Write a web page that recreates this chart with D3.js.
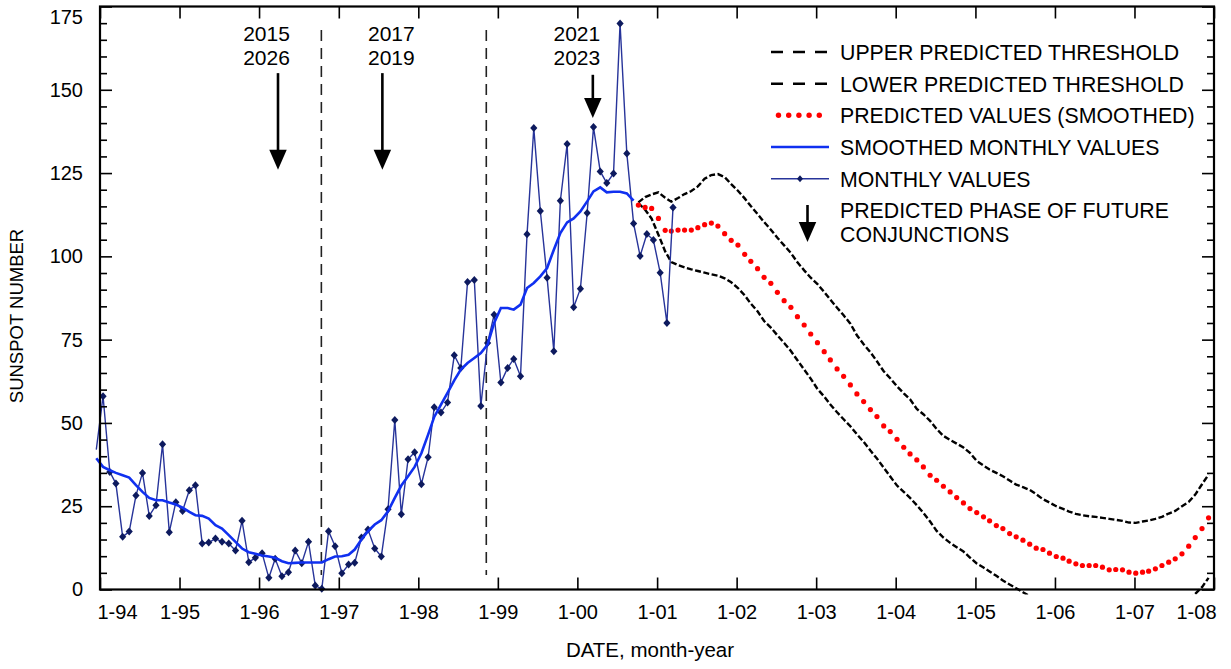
<!DOCTYPE html>
<html><head><meta charset="utf-8">
<script src="https://cdn.jsdelivr.net/npm/d3@7"></script>
<style>
body{margin:0;background:#fff}
svg{display:block}
text{font-family:Arial,"Liberation Sans",Helvetica,sans-serif;fill:#000}
</style>
</head><body>
<svg id="chart" width="1231" height="669"></svg>
<script>
// ---------------- DATA ----------------
const monthlyStart = "1993-12";
const monthlyValues = [
  42,
  58, 35.3, 31.8, 15.8, 17.4, 28.2, 35.0, 22.1, 25.3, 43.6, 17.2, 26.2,
  23.6, 29.8, 31.3, 13.8, 14.1, 15.3, 14.3, 13.8, 11.7, 20.6, 8.2, 9.5,
  10.9, 3.5, 9.2, 4.0, 5.2, 11.7, 7.9, 14.3, 1.2, 0.2, 17.5, 13.0,
  4.9, 7.5, 8.0, 15.6, 18.0, 12.3, 9.9, 24.1, 50.9, 22.6, 39.1, 41.2,
  31.6, 39.7, 54.7, 53.1, 56.1, 70.3, 66.5, 92.3, 92.9, 55.1, 74.0, 82.5,
  62.1, 66.5, 69.2, 64.0, 106.6, 138.5, 113.6, 93.6, 71.5, 116.7, 133.7, 84.7,
  90.3, 113.0, 138.8, 125.5, 122.0, 124.9, 169.9, 130.9, 109.9, 100.1, 106.7, 104.9,
  95.1, 80.0, 114.7
];
const smoothedStart = "1993-12";
const smoothedValues = [
  39.4,
  36.8, 35.8, 35.0, 34.3, 33.6, 31.3, 29.3, 27.5, 26.8, 26.8, 26.1, 25.5,
  24.6, 23.3, 22.3, 22.1, 21.3, 19.3, 18.3, 16.3, 14.3, 12.3, 11.2, 10.7,
  10.2, 9.9, 9.5, 8.5, 7.9, 8.0, 8.1, 8.1, 8.1, 8.1, 9.1, 9.9,
  10.0, 10.4, 12.0, 15.0, 17.5, 19.5, 20.8, 23.5, 27.5, 31.2, 34.0, 36.8,
  40.9, 46.5, 51.8, 55.5, 59.0, 62.8, 66.0, 68.0, 69.5, 71.0, 73.5, 80.0,
  84.5, 84.5, 84.0, 85.5, 90.5, 92.0, 94.0, 96.5, 102.0, 107.0, 110.2, 111.4,
  113.5, 116.5, 119.5, 120.7, 119.2, 119.4, 119.4, 118.9, 116.7
];
const predictedStart = "2000-10";
const predictedValues = [
  115.4, 114.7, 114.4, 111.4, 107.8, 107.6, 107.9, 107.9, 107.9, 108.6,
  109.5, 110.0, 109.1, 106.8, 104.8, 103.4, 100.6, 98.5, 96.3, 93.7,
  91.9, 89.2, 86.7, 84.7, 81.9, 79.4, 76.7, 74.1, 71.4, 68.9,
  66.2, 64.0, 61.4, 58.7, 56.4, 54.0, 51.9, 49.1, 47.4, 45.1,
  42.7, 40.7, 38.9, 36.8, 34.3, 32.8, 31.0, 29.3, 27.6, 26.0,
  24.3, 23.1, 21.8, 20.6, 19.2, 18.3, 16.8, 15.8, 14.8, 13.6,
  12.4, 12.0, 10.9, 9.9, 9.4, 8.5, 7.7, 7.2, 7.2, 7.2,
  6.7, 5.9, 6.0, 5.9, 5.2, 4.9, 5.2, 5.5, 6.2, 7.2,
  8.2, 9.2, 10.7, 13.0, 15.6, 18.3, 21.5
];
const upperThreshold = [
  116.2, 117.8, 118.6, 119.2, 117.6, 116.4, 117.5, 118.7, 119.6, 121.0,
  123.3, 124.4, 124.7, 123.8, 121.7, 119.7, 117.4, 115.1, 112.7, 110.3,
  108.0, 105.6, 103.3, 101.0, 98.2, 95.8, 93.6, 91.7, 89.3, 87.0,
  84.6, 82.3, 79.8, 76.3, 73.6, 71.2, 68.5, 65.5, 63.4, 61.0,
  58.9, 57.1, 54.2, 52.6, 50.6, 48.2, 46.1, 44.9, 43.8, 42.6,
  41.0, 38.6, 37.2, 36.0, 35.0, 34.0, 32.7, 31.5, 30.7, 29.9,
  28.6, 27.1, 26.1, 25.0, 24.2, 23.4, 22.7, 22.3, 22.0, 21.8,
  21.5, 21.2, 20.9, 20.6, 20.1, 20.0, 20.4, 20.7, 21.2, 21.8,
  22.8, 23.6, 25.0, 26.3, 28.5, 31.6, 34.5
];
// values below the frame are not visible in the picture (null)
const lowerThreshold = [
  116.0, 114.0, 111.3, 106.5, 101.5, 98.3, 97.4, 96.7, 96.1, 95.6,
  95.1, 94.6, 94.2, 93.4, 92.2, 90.5, 88.3, 85.8, 83.5, 80.6,
  78.6, 76.3, 74.0, 71.6, 68.8, 66.0, 63.3, 60.2, 57.9, 55.5,
  53.2, 51.1, 49.0, 46.6, 44.3, 41.7, 39.3, 36.6, 33.9, 31.2,
  29.3, 27.5, 25.3, 23.0, 20.4, 17.6, 15.6, 14.0, 12.7, 11.4,
  9.6, 7.8, 6.6, 5.4, 4.1, 2.7, 1.5, 0.4, -0.8, -2.0,
  null, null, null, null, null, null, null, null, null, null,
  null, null, null, null, null, null, null, null, null, null,
  null, null, null, -3.0, -1.3, 0.7, 3.5
];
const conjunctionLines = ["1996-10-13", "1998-11-09"];
const conjunctionArrows = [
  {date: "1996-03-28", tip: 126, top: 155, labels: ["2015", "2026"]},
  {date: "1997-07-20", tip: 126, top: 155, labels: ["2017", "2019"]},
  {date: "2000-03-12", tip: 141.5, top: 154.5, labels: ["2021", "2023"]}
];
const yTicks = [0, 25, 50, 75, 100, 125, 150, 175];
const xTickYears = d3.range(1994, 2009);
const legendLabels = [
  ["UPPER PREDICTED THRESHOLD"],
  ["LOWER PREDICTED THRESHOLD"],
  ["PREDICTED VALUES (SMOOTHED)"],
  ["SMOOTHED MONTHLY VALUES"],
  ["MONTHLY VALUES"],
  ["PREDICTED PHASE OF FUTURE", "CONJUNCTIONS"]
];
const yTitle = "SUNSPOT NUMBER";
const xTitle = "DATE, month-year";

// ---------------- HELPERS ----------------
const parseMonth = d3.timeParse("%Y-%m");
const parseDay = d3.timeParse("%Y-%m-%d");
function monthSeries(start, values, day) {
  const s = parseMonth(start);
  return values.map((v, i) => {
    const d = d3.timeMonth.offset(s, i);
    d.setDate(day);
    return {date: d, value: v};
  });
}
const monthly = monthSeries(monthlyStart, monthlyValues, 15);
const smoothed = monthSeries(smoothedStart, smoothedValues, 15);
const predicted = monthSeries(predictedStart, predictedValues, 7);
const upper = monthSeries(predictedStart, upperThreshold, 7);
const lower = monthSeries(predictedStart, lowerThreshold, 7);

// ---------------- LAYOUT ----------------
const L = 100, R = 1214, T = 6.5, B = 589.5;
const svg = d3.select("#chart");
const x = d3.scaleTime().domain([new Date(1994, 0, 1), new Date(2008, 0, 1)]).range([L, R]);
const y = d3.scaleLinear().domain([0, 175]).range([B, T]);

svg.append("rect").attr("width", 1231).attr("height", 669).attr("fill", "#fff");

svg.append("defs").append("clipPath").attr("id", "clipLow")
  .append("rect").attr("x", L).attr("y", 0).attr("width", R - L + 2).attr("height", B + 5);

const line = d3.line().defined(d => d.value !== null).x(d => x(d.date)).y(d => y(d.value));

// vertical dashed conjunction lines
svg.append("g").selectAll("line").data(conjunctionLines).join("line")
  .attr("x1", d => x(parseDay(d))).attr("x2", d => x(parseDay(d)))
  .attr("y1", 30).attr("y2", 575)
  .attr("stroke", "#222").attr("stroke-width", 1.6).attr("stroke-dasharray", "11,7");

// thresholds
svg.append("path").datum(upper).attr("d", line)
  .attr("fill", "none").attr("stroke", "#000").attr("stroke-width", 2.4)
  .attr("stroke-dasharray", "6,2.5");
svg.append("path").datum(lower).attr("d", line).attr("clip-path", "url(#clipLow)")
  .attr("fill", "none").attr("stroke", "#000").attr("stroke-width", 2.4)
  .attr("stroke-dasharray", "6,2.5");

// predicted dots
svg.append("g").selectAll("circle").data(predicted).join("circle")
  .attr("cx", d => x(d.date)).attr("cy", d => y(d.value)).attr("r", 2.6).attr("fill", "#ff0000");

// monthly values
svg.append("path").datum(monthly).attr("d", line)
  .attr("fill", "none").attr("stroke", "#27349a").attr("stroke-width", 1.4);
const diamond = "M0,-4L3.6,0L0,4L-3.6,0Z";
svg.append("g").selectAll("path").data(monthly.filter(d => d.date >= x.domain()[0])).join("path")
  .attr("d", diamond).attr("transform", d => `translate(${x(d.date)},${y(d.value)})`)
  .attr("fill", "#0d1a5e");

// smoothed
svg.append("path").datum(smoothed).attr("d", line)
  .attr("fill", "none").attr("stroke", "#1030f0").attr("stroke-width", 2.6);

// arrows
function arrow(g, cx, y1, y2, headH, headW, sw) {
  g.append("line").attr("x1", cx).attr("x2", cx).attr("y1", y1).attr("y2", y2 - headH + 1)
    .attr("stroke", "#000").attr("stroke-width", sw);
  g.append("path").attr("d", `M${cx - headW / 2},${y2 - headH}L${cx + headW / 2},${y2 - headH}L${cx},${y2}Z`)
    .attr("fill", "#000");
}
const labelOffsets = [-11.5, 9, -16];
conjunctionArrows.forEach((a, i) => {
  const g = svg.append("g");
  const cx = x(parseDay(a.date));
  arrow(g, cx, y(a.top), y(a.tip), 20, 17.5, 2.6);
  a.labels.forEach((t, j) => {
    g.append("text").attr("x", cx + labelOffsets[i]).attr("y", 40.5 + j * 24)
      .attr("text-anchor", "middle").attr("font-size", 21).text(t);
  });
});

// ---------------- AXES ----------------
const fmtYear = d3.timeFormat("%y");
const yearDates = xTickYears.map(yr => new Date(yr, 0, 1));

const gx = svg.append("g").attr("transform", `translate(0,${B})`)
  .call(d3.axisBottom(x).tickValues(yearDates).tickSize(-12).tickPadding(15)
    .tickFormat(d => "1-" + fmtYear(d)));
gx.selectAll("text").attr("font-size", 20).attr("font-family", "Arial, 'Liberation Sans', sans-serif")
  .attr("fill", "#000");
gx.selectAll(".tick").filter((d, i) => i === 0).select("text").attr("text-anchor", "start").attr("x", -3);
gx.selectAll(".tick").filter((d, i, n) => i === n.length - 1).select("text").attr("text-anchor", "end").attr("x", 2);

const gxt = svg.append("g").attr("transform", `translate(0,${T})`)
  .call(d3.axisTop(x).tickValues(yearDates).tickSize(-12).tickFormat(""));

const minorY = d3.range(0, 176, 5).filter(v => v % 25 !== 0);
const gy = svg.append("g").attr("transform", `translate(${L},0)`)
  .call(d3.axisLeft(y).tickValues(yTicks).tickSize(-12).tickPadding(17));
gy.selectAll("text").attr("font-size", 20).attr("font-family", "Arial, 'Liberation Sans', sans-serif")
  .attr("fill", "#000");
gy.selectAll(".tick").filter(d => d === 175).select("text").attr("dy", "0.32em").attr("y", 10.5);
const gym = svg.append("g").attr("transform", `translate(${L},0)`)
  .call(d3.axisLeft(y).tickValues(minorY).tickSize(-7).tickFormat(""));
const gyr = svg.append("g").attr("transform", `translate(${R},0)`)
  .call(d3.axisRight(y).tickValues(yTicks).tickSize(-12).tickFormat(""));
const gyrm = svg.append("g").attr("transform", `translate(${R},0)`)
  .call(d3.axisRight(y).tickValues(minorY).tickSize(-7).tickFormat(""));

[gx, gxt, gy, gym, gyr, gyrm].forEach(g => {
  g.select(".domain").remove();
  g.selectAll(".tick line").attr("stroke", "#000").attr("stroke-width", 1.6);
});

svg.append("rect").attr("x", L).attr("y", T).attr("width", R - L).attr("height", B - T)
  .attr("fill", "none").attr("stroke", "#000").attr("stroke-width", 2.2);

// titles
svg.append("text").attr("transform", "translate(23,316) rotate(-90)")
  .attr("text-anchor", "middle").attr("font-size", 18.5).text(yTitle);
svg.append("text").attr("x", 650).attr("y", 657)
  .attr("text-anchor", "middle").attr("font-size", 20.5).text(xTitle);

// ---------------- LEGEND ----------------
const lg = svg.append("g");
const rowBase = [60, 91.7, 123.3, 155, 186.7, 218.3];
const rowMid = rowBase.map(b => b - 8);
const lx1 = 771, lx2 = 829, tx = 840;
legendLabels.forEach((lines, i) => {
  lines.forEach((t, j) => {
    lg.append("text").attr("x", tx).attr("y", rowBase[i] + j * 23.4).attr("font-size", 21.3).text(t);
  });
});
// thresholds
[0, 1].forEach(i => lg.append("line").attr("x1", lx1).attr("x2", lx2).attr("y1", rowMid[i]).attr("y2", rowMid[i])
  .attr("stroke", "#000").attr("stroke-width", 2.4).attr("stroke-dasharray", "12,10"));
// red dots
lg.selectAll("circle.leg").data(d3.range(5)).join("circle").attr("class", "leg")
  .attr("cx", k => 778.5 + k * 10.2).attr("cy", rowMid[2]).attr("r", 2.7).attr("fill", "#ff0000");
// smoothed
lg.append("line").attr("x1", lx1).attr("x2", lx2).attr("y1", rowMid[3]).attr("y2", rowMid[3])
  .attr("stroke", "#1030f0").attr("stroke-width", 2.6);
// monthly
lg.append("line").attr("x1", lx1).attr("x2", lx2).attr("y1", rowMid[4]).attr("y2", rowMid[4])
  .attr("stroke", "#27349a").attr("stroke-width", 1.6);
lg.append("path").attr("d", "M0,-3.5L3,0L0,3.5L-3,0Z").attr("transform", `translate(800,${rowMid[4]})`)
  .attr("fill", "#0d1a5e");
// arrow
arrow(lg, 807.5, 205, 242, 20, 17.5, 2.6);
</script>
</body></html>
